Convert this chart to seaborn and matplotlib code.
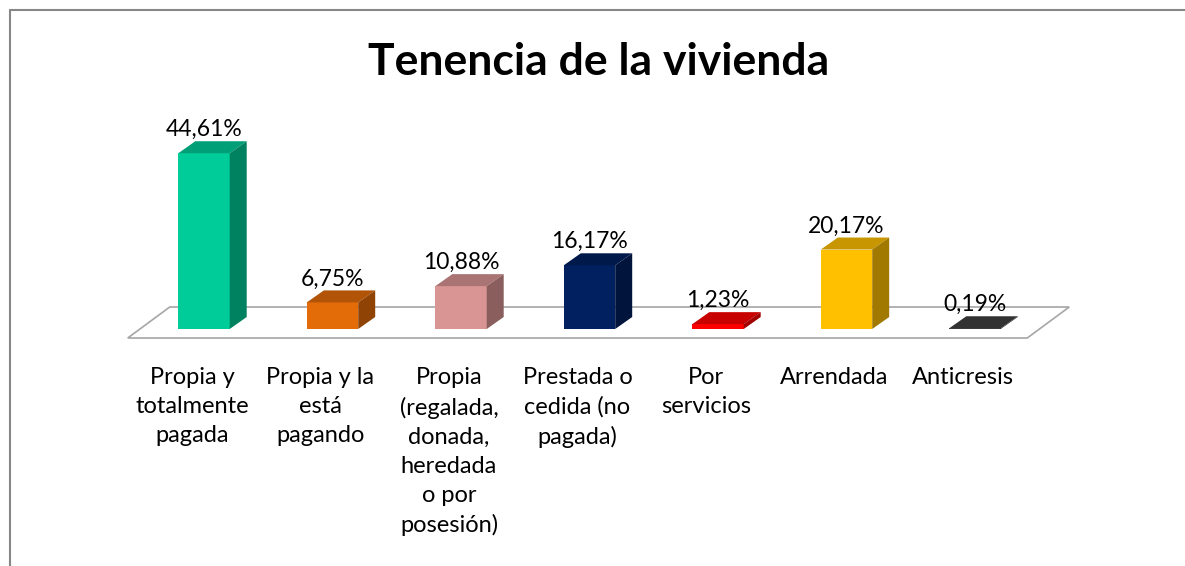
import numpy as np
import matplotlib.pyplot as plt
import seaborn as sns
from matplotlib.patches import Polygon
from matplotlib.lines import Line2D
from matplotlib.transforms import IdentityTransform
from matplotlib.colors import to_rgb

# Datos del gráfico
claves = ["c1", "c2", "c3", "c4", "c5", "c6", "c7"]
categorias = [
    "Propia y\ntotalmente\npagada",
    "Propia y la\nestá\npagando",
    "Propia\n(regalada,\ndonada,\nheredada\no por\nposesión)",
    "Prestada o\ncedida (no\npagada)",
    "Por\nservicios",
    "Arrendada",
    "Anticresis",
]
valores = [44.61, 6.75, 10.88, 16.17, 1.23, 20.17, 0.19]
colores = ["#00CC99", "#E36C09", "#D99594", "#002060", "#FF0000", "#FFC000", "#404040"]

sns.set_style("white")
plt.rcParams['font.family'] = ['Lato', 'DejaVu Sans']
plt.rcParams['text.color'] = 'black'

W, H = 1185, 566
fig = plt.figure(figsize=(W / 100, H / 100), dpi=100)
ax = fig.add_axes([139.75 / W, (H - 329) / H, 899.5 / W, 197 / H])

sns.barplot(x=claves, y=valores, hue=claves, palette=colores, width=0.4,
            saturation=1, legend=False, linewidth=0, ax=ax, zorder=3)
ax.set_xlim(-0.5, 6.5)
ax.set_ylim(0, 50)
ax.axis('off')
barras = list(ax.patches)

px = IdentityTransform()
DX, DY = 17, 12  # profundidad de las barras en pixeles


def oscurecer(c, f):
    return tuple(np.array(to_rgb(c)) * f)


# Piso en perspectiva
(xl, y0), (xr, _) = ax.transData.transform([(-0.5, 0), (6.5, 0)])
piso = [(xl - 12, y0 - 9), (xr - 12, y0 - 9), (xr + 30, y0 + 22), (xl + 30, y0 + 22)]
ax.add_patch(Polygon(piso, closed=True, transform=px, fc='white', ec='#A6A6A6',
                     lw=1.2, clip_on=False, zorder=1))

# Caras superior y lateral de cada barra, etiquetas
for p, c, v, cat in zip(barras, colores, valores, categorias):
    (x0, b0), (x1, b1) = ax.transData.transform(
        [(p.get_x(), 0), (p.get_x() + p.get_width(), p.get_height())])
    arriba = [(x0, b1), (x1, b1), (x1 + DX, b1 + DY), (x0 + DX, b1 + DY)]
    lado = [(x1, b0), (x1, b1), (x1 + DX, b1 + DY), (x1 + DX, b0 + DY)]
    ax.add_patch(Polygon(arriba, closed=True, transform=px, fc=oscurecer(c, 0.78),
                         lw=0, clip_on=False, zorder=4))
    ax.add_patch(Polygon(lado, closed=True, transform=px, fc=oscurecer(c, 0.63),
                         lw=0, clip_on=False, zorder=4))
    ax.text((x0 + x1) / 2, b1 + DY + 5, f"{v:.2f}%".replace('.', ','), transform=px,
            ha='center', va='baseline', fontsize=16.5, color='black', zorder=5)
    ax.text((x0 + x1) / 2 - 12, b0 - 38, cat, transform=px, ha='center', va='top',
            fontsize=17, linespacing=1.47, color='black')

# Título
fig.text(599 / W, 1 - 62 / H, "Tenencia de la vivienda", ha='center', va='center',
         fontsize=32, fontweight='bold', color='black')

# Borde del gráfico
fig.add_artist(Line2D([9.5 / W, 9.5 / W], [0, 1 - 10 / H], color='#878787', lw=1.5,
                      transform=fig.transFigure))
fig.add_artist(Line2D([9.5 / W, 1], [1 - 10 / H, 1 - 10 / H], color='#878787', lw=1.5,
                      transform=fig.transFigure))

fig.savefig('out.png', dpi=100)
